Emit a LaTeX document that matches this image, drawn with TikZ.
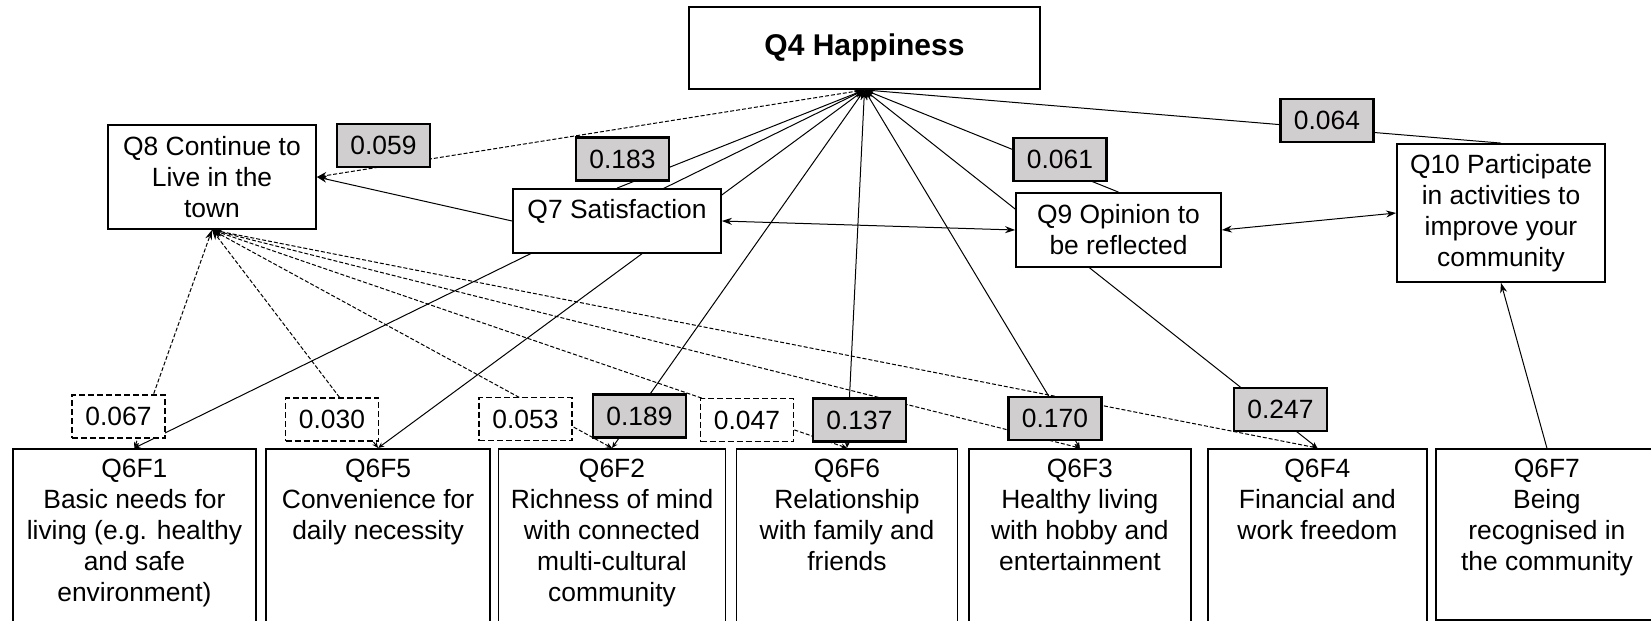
\documentclass[tikz,border=0pt]{standalone}
\usepackage{fontspec}
\setmainfont{Liberation Sans}
\usepackage{tikz}
\usetikzlibrary{positioning, arrows.meta, backgrounds}
\definecolor{ink}   {HTML}{000000}
\definecolor{coefbg}{HTML}{D0CECE}

\begin{document}
\begin{tikzpicture}[x=0.5pt, y=-0.5pt,
      every node/.style={font=\fontsize{13.2}{15.5}\selectfont},
      box/.style ={draw=ink, line width=0.9pt, fill=white, align=center,
                   inner sep=1pt, minimum width=104pt},
      fbox/.style={box, minimum height=88.5pt},
      ftext/.style={anchor=north, align=center, inner sep=0pt, yshift=-5.5pt},
      coef/.style={draw=ink, line width=1.1pt, fill=coefbg, inner sep=1pt,
                   minimum width=46.5pt, minimum height=21.5pt},
      coefd/.style={coef, fill=white, line width=0.8pt, dash pattern=on 3pt off 1.5pt},
      arr/.style ={-{Stealth[length=5pt, width=3.5pt]}, line width=0.5pt, draw=ink},
      farr/.style={{Stealth[length=3pt, width=2.5pt]}-{Stealth[length=5pt, width=3.5pt]},
                   line width=0.5pt, draw=ink},
      darr/.style={farr, dash pattern=on 2pt off 1pt},
      biarr/.style={{Stealth[length=5pt, width=3.5pt]}-{Stealth[length=5pt, width=3.5pt]},
                   line width=0.5pt, draw=ink}]

    \useasboundingbox (0,0) rectangle (1651,621);
    \clip (0,0) rectangle (1651,621);

    % outcome and mediators
    \node[box, minimum width=175.5pt, minimum height=41pt,
          font=\fontsize{15}{18}\selectfont\bfseries] (q4) at (864.5,48) {Q4 Happiness};
    \node[box, minimum height=52pt] (q8) at (212,177) {Q8 Continue to\\Live in the\\town};
    \node[box, minimum height=32pt, label={[ftext]north:Q7 Satisfaction}] (q7) at (617,221) {};
    \node[box, minimum width=102.5pt, minimum height=37pt] (q9) at (1118.5,230) {Q9 Opinion to\\be reflected};
    \node[box, minimum height=69pt] (q10) at (1501,213)
         {Q10 Participate\\in activities to\\improve your\\community};

    % factors
    \node[fbox, minimum width=121.5pt, anchor=north west,
          label={[ftext]north:{Q6F1\\Basic needs for\\living (e.g. healthy\\and safe\\environment)}}] (f1) at (12,448) {};
    \node[fbox, minimum width=112pt, right=4.2pt of f1,
          label={[ftext]north:{Q6F5\\Convenience for\\daily necessity}}] (f5) {};
    \node[fbox, minimum width=113.5pt, right=3.3pt of f5,
          label={[ftext]north:{Q6F2\\Richness of mind\\with connected\\multi-cultural\\community}}] (f2) {};
    \node[fbox, minimum width=110.5pt, right=4.6pt of f2,
          label={[ftext]north:{Q6F6\\Relationship\\with family and\\friends}}] (f6) {};
    \node[fbox, minimum width=111pt, right=4.8pt of f6,
          label={[ftext]north:{Q6F3\\Healthy living\\with hobby and\\entertainment}}] (f3) {};
    \node[fbox, minimum width=109.5pt, right=7.6pt of f3,
          label={[ftext]north:{Q6F4\\Financial and\\work freedom}}] (f4) {};
    \node[fbox, minimum width=111pt, minimum height=85.5pt, right=3.6pt of f4.north east, anchor=north west,
          label={[ftext]north:{Q6F7\\Being\\recognised in\\the community}}] (f7) {};

    % coefficients
    \node[coef]  (c059) at (383.5,145.5) {0.059};
    \node[coef]  (c183) at (622.5,159)   {0.183};
    \node[coef]  (c061) at (1060,159.5)  {0.061};
    \node[coef]  (c064) at (1327,120.5)  {0.064};
    \node[coefd] (c067) at (118.5,416.5) {0.067};
    \node[coefd] (c030) at (332,419.5)   {0.030};
    \node[coefd] (c053) at (525.5,419)   {0.053};
    \node[coef]  (c189) at (639.5,416)   {0.189};
    \node[coefd] (c047) at (747,420)     {0.047};
    \node[coef]  (c137) at (859.5,420)   {0.137};
    \node[coef]  (c170) at (1055,418.5)  {0.170};
    \node[coef]  (c247) at (1280.5,409.5){0.247};

    \begin{scope}[on background layer]
      \draw[arr] (q7.north)  -- (q4.south);
      \draw[arr] (q9.north)  -- (q4.south);
      \draw[arr] (q10.north) -- (q4.south);
      \foreach \f in {f1,f5,f2,f6,f3,f4}
        \draw[farr] (\f.north) -- (q4.south);

      \draw[arr, dash pattern=on 2pt off 1pt] (q4.south) -- (q8.east);
      \draw[arr] (q7.west) -- (q8.east);
      \foreach \f in {f1,f5,f2,f6,f3,f4}
        \draw[darr] (\f.north) -- (q8.south);

      \draw[biarr] (q7.east) -- (q9.west);
      \draw[biarr] (q9.east) -- (q10.west);
      \draw[arr] (f7.north) -- (q10.south);
    \end{scope}
  \end{tikzpicture}
\end{document}
